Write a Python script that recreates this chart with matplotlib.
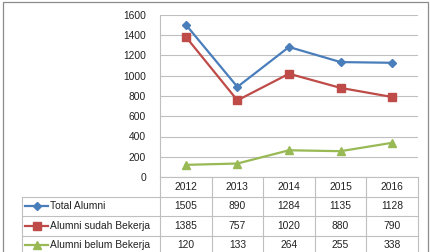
import matplotlib.pyplot as plt
from matplotlib.lines import Line2D
from matplotlib.patches import Rectangle

# data
years = ["2012", "2013", "2014", "2015", "2016"]
total_alumni = [1505, 890, 1284, 1135, 1128]
sudah_bekerja = [1385, 757, 1020, 880, 790]
belum_bekerja = [120, 133, 264, 255, 338]
series_names = ["Total Alumni", "Alumni sudah Bekerja", "Alumni belum Bekerja"]
y_ticks = [0, 200, 400, 600, 800, 1000, 1200, 1400, 1600]

series = [total_alumni, sudah_bekerja, belum_bekerja]
colors = ["#4A7EBB", "#BE4B48", "#98B954"]
markers = ["D", "s", "^"]
msizes = [4.5, 6, 6]

plt.rcParams["font.family"] = ["Liberation Sans", "DejaVu Sans"]
FS = 7.4
GRID = "#BFBFBF"

W, H = 430, 252
fig = plt.figure(figsize=(W / 100, H / 100), dpi=100)

# pixel geometry of the plot area
px_left, px_right, px_top, px_bottom = 160, 418, 15, 177
ax = fig.add_axes([px_left / W, 1 - px_bottom / H,
                   (px_right - px_left) / W, (px_bottom - px_top) / H])
x = range(len(years))
for vals, c, m, ms in zip(series, colors, markers, msizes):
    ax.plot(x, vals, color=c, lw=1.6, marker=m, ms=ms, mec=c, mfc=c, clip_on=False, zorder=3)

ax.set_xlim(-0.5, len(years) - 0.5)
ax.set_ylim(0, 1600)
ax.set_yticks(y_ticks)
ax.set_xticks([])
ax.tick_params(axis="y", length=0, pad=10, labelsize=FS, labelcolor="#222222")
ax.yaxis.grid(True, color=GRID, lw=0.8)
ax.set_axisbelow(True)
for s in ["top", "right", "bottom"]:
    ax.spines[s].set_visible(False)
ax.spines["left"].set_color(GRID)
ax.spines["left"].set_linewidth(0.8)

# data table below the plot
tb_left, tb_top, row_h = 22, 177, 19.5
n_rows = 4
tb_bottom = tb_top + row_h * n_rows
tab = fig.add_axes([tb_left / W, 1 - tb_bottom / H,
                    (px_right - tb_left) / W, (tb_bottom - tb_top) / H])
col_w = (px_right - px_left) / len(years)
x_left = -0.5 - (px_left - tb_left) / col_w
tab.set_xlim(x_left, len(years) - 0.5)
tab.set_ylim(n_rows, 0)
tab.axis("off")

lk = dict(color=GRID, lw=0.8, clip_on=False)
# horizontal lines
tab.plot([-0.5, len(years) - 0.5], [0, 0], **lk)
for r in range(1, n_rows + 1):
    tab.plot([x_left, len(years) - 0.5], [r, r], **lk)
# vertical lines
tab.plot([x_left, x_left], [1, n_rows], **lk)
for i in range(len(years) + 1):
    tab.plot([i - 0.5, i - 0.5], [0, n_rows], **lk)

for i, yr in enumerate(years):
    tab.text(i, 0.5, yr, ha="center", va="center", fontsize=FS, color="#222222")
for r, (name, vals, c, m, ms) in enumerate(zip(series_names, series, colors, markers, msizes), start=1):
    for i, v in enumerate(vals):
        tab.text(i, r + 0.5, str(v), ha="center", va="center", fontsize=FS, color="#222222")
    kx0 = x_left + 3 / col_w
    kx1 = x_left + 26 / col_w
    tab.add_line(Line2D([kx0, kx1], [r + 0.5, r + 0.5], color=c, lw=1.6))
    tab.add_line(Line2D([(kx0 + kx1) / 2], [r + 0.5], color=c, marker=m,
                        ms=ms * 0.85, mec=c, mfc=c, lw=0))
    tab.text(x_left + 28 / col_w, r + 0.5, name, ha="left", va="center",
             fontsize=FS, color="#222222")

# outer chart border
fig.patches.append(Rectangle((2.5 / W, -0.1), (428 - 2.5) / W, 1 - 2.5 / H + 0.1,
                             transform=fig.transFigure, fill=False,
                             ec="#8C8C8C", lw=0.9))

fig.savefig("out.png", dpi=100)
